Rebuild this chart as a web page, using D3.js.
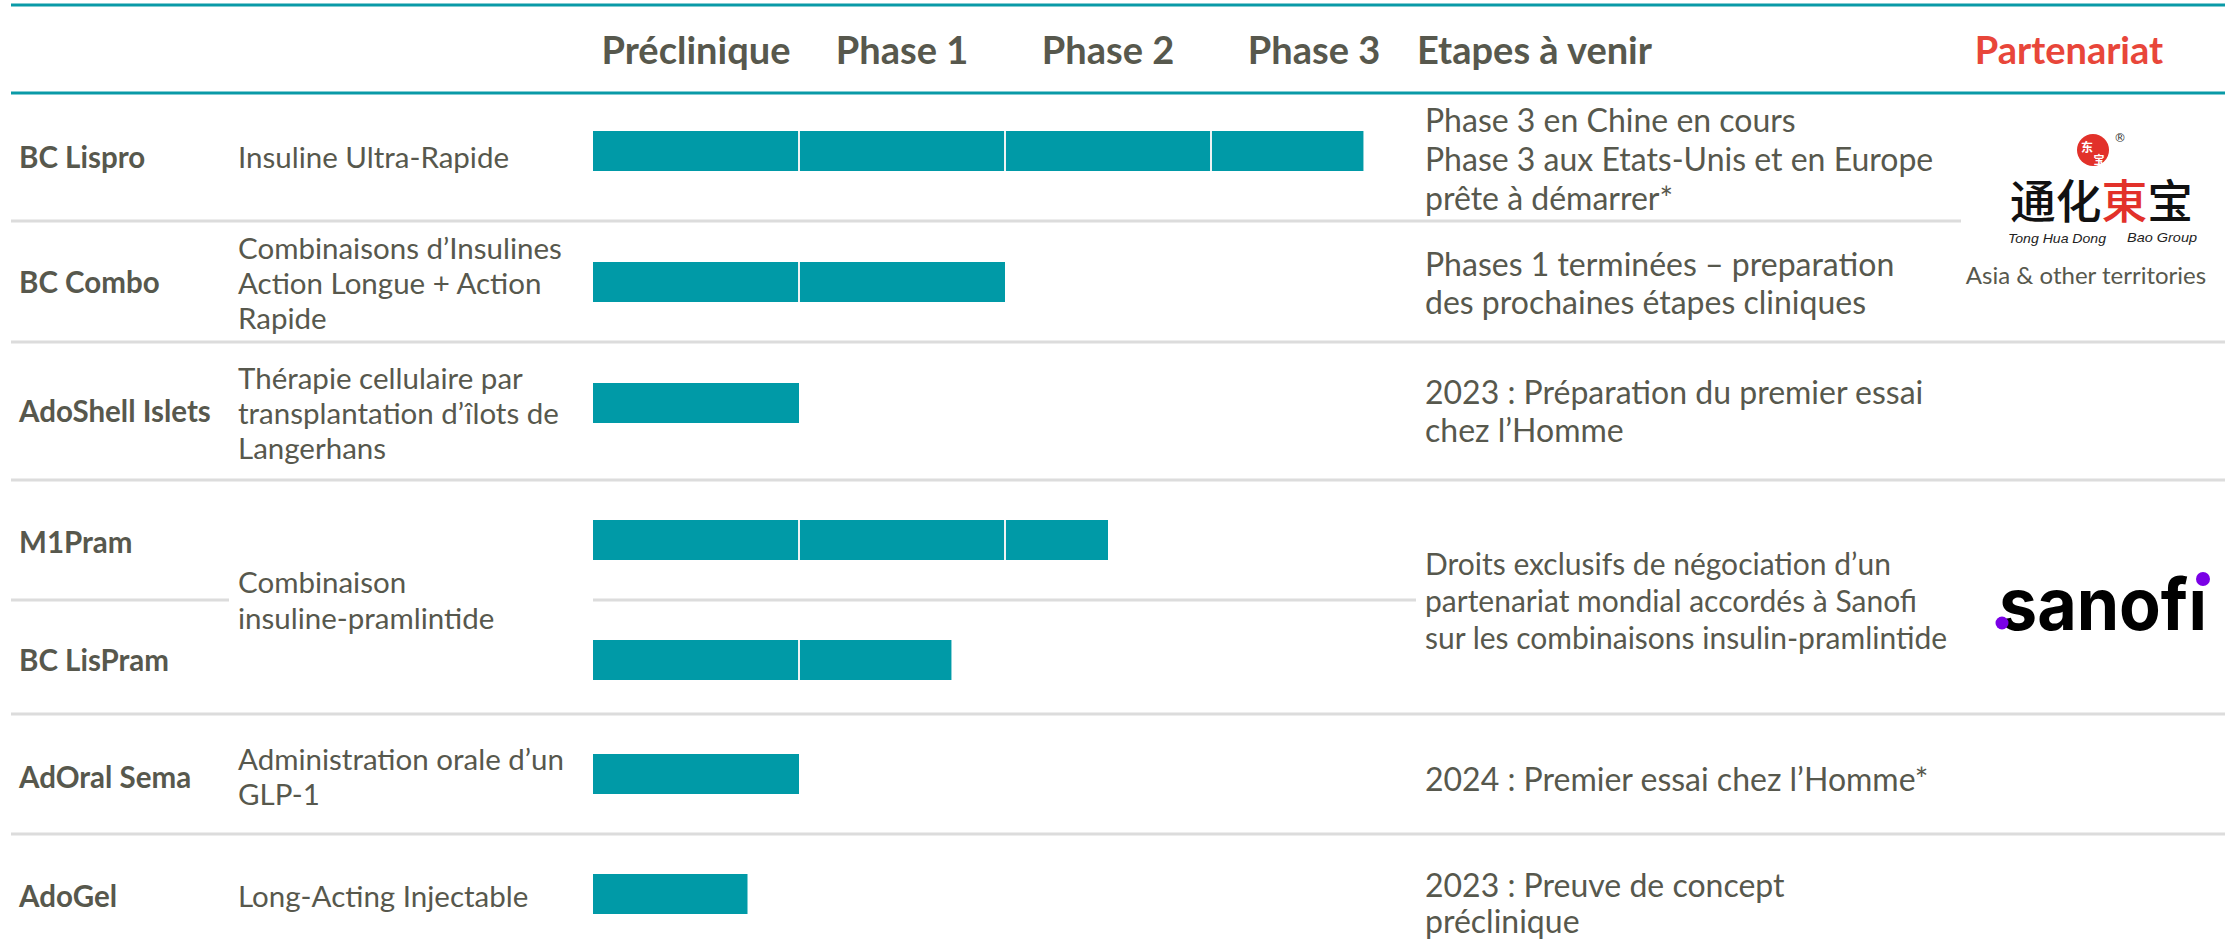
<!DOCTYPE html>
<html>
<head>
<meta charset="utf-8">
<script src="https://cdn.jsdelivr.net/npm/d3@7"></script>
<style>
  html, body { margin: 0; padding: 0; background: #ffffff; }
  svg { display: block; }
</style>
</head>
<body>
<div class="board"></div>
<script>
/*
=================================
DATA
=================================
*/
var phases = ['Préclinique', 'Phase 1', 'Phase 2', 'Phase 3'];

var products = ['BC Lispro', 'BC Combo', 'AdoShell Islets', 'M1Pram', 'BC LisPram', 'AdOral Sema', 'AdoGel'];

// progress in phase units (0 = start of preclinical, 4 = end of phase 3)
var progress = [3.74, 2.0, 1.0, 2.5, 1.74, 1.0, 0.75];

var descriptions = [
  ['Insuline Ultra-Rapide'],
  ['Combinaisons d’Insulines', 'Action Longue + Action', 'Rapide'],
  ['Thérapie cellulaire par', 'transplantation d’îlots de', 'Langerhans'],
  ['Combinaison', 'insuline-pramlintide'],
  ['Administration orale d’un', 'GLP-1'],
  ['Long-Acting Injectable']
];

var milestones = [
  ['Phase 3 en Chine en cours', 'Phase 3 aux Etats-Unis et en Europe', 'prête à démarrer*'],
  ['Phases 1 terminées – preparation', 'des prochaines étapes cliniques'],
  ['2023 : Préparation du premier essai', 'chez l’Homme'],
  ['Droits exclusifs de négociation d’un', 'partenariat mondial accordés à Sanofi', 'sur les combinaisons insulin-pramlintide'],
  ['2024 : Premier essai chez l’Homme*'],
  ['2023 : Preuve de concept', 'préclinique']
];

var headerExtra = ['Etapes à venir', 'Partenariat'];


/*
=================================
LAYOUT
=================================
*/
var width = 2235;
var height = 950;

var teal = '#0a9aa7';
var textColor = '#57584d';
var gridColor = '#dcdcdc';

var barCenters = [151, 282, 403, 540, 660, 774, 894];
var labelCenters = [157, 282, 411, 542, 660, 777, 896];
var barHeight = 40;

// first line centre, line step and font size for each text block
var descLayout = [[157, 0, 29.5], [248, 35, 29.5], [378, 35, 29.5], [582, 36, 29.5], [759, 35, 29.5], [896, 0, 29.5]];
var mileLayout = [[120, 39, 32], [264, 38.5, 32], [392, 38.5, 32], [564, 37, 30], [779, 0, 32], [885, 36.5, 32]];

var svgContainer = d3.select('.board').append('svg')
                     .attr('width', width)
                     .attr('height', height);

var x = d3.scaleLinear()
          .domain([0, phases.length])
          .range([593, 1417]);


/*
=================================
RULES
=================================
*/
var tealLines = [5, 93];

svgContainer.selectAll('line.teal')
  .data(tealLines)
  .enter().append('line')
  .attr('class', 'teal')
  .attr('x1', 11)
  .attr('x2', 2225)
  .attr('y1', d => d)
  .attr('y2', d => d)
  .attr('stroke', teal)
  .attr('stroke-width', 3);

var separators = [
  [221, 11, 1961],
  [342, 11, 2225],
  [480, 11, 2225],
  [600, 11, 229],
  [600, 593, 1416],
  [714, 11, 2225],
  [834, 11, 2225]
];

svgContainer.selectAll('line.sep')
  .data(separators)
  .enter().append('line')
  .attr('class', 'sep')
  .attr('x1', d => d[1])
  .attr('x2', d => d[2])
  .attr('y1', d => d[0])
  .attr('y2', d => d[0])
  .attr('stroke', gridColor)
  .attr('stroke-width', 3);


/*
=================================
HEADER
=================================
*/
svgContainer.selectAll('text.phase')
  .data(phases)
  .enter().append('text')
  .attr('class', 'phase')
  .attr('x', (d, i) => x(i + 0.5))
  .attr('y', 64)
  .attr('text-anchor', 'middle')
  .style('font-family', 'Lato')
  .style('font-weight', 700)
  .style('font-size', '38px')
  .style('fill', textColor)
  .text(d => d);

svgContainer.append('text')
  .attr('x', 1417)
  .attr('y', 64)
  .style('font-family', 'Lato')
  .style('font-weight', 700)
  .style('font-size', '38px')
  .style('fill', textColor)
  .text(headerExtra[0]);

svgContainer.append('text')
  .attr('x', 2069)
  .attr('y', 64)
  .attr('text-anchor', 'middle')
  .style('font-family', 'Lato')
  .style('font-weight', 700)
  .style('font-size', '38px')
  .style('fill', '#e8463a')
  .text(headerExtra[1]);


/*
=================================
ROW LABELS
=================================
*/
svgContainer.selectAll('text.product')
  .data(products)
  .enter().append('text')
  .attr('class', 'product')
  .attr('x', 19)
  .attr('y', (d, i) => labelCenters[i])
  .attr('dy', '0.36em')
  .style('font-family', 'Lato')
  .style('font-weight', 700)
  .style('font-size', '29.5px')
  .style('fill', textColor)
  .text(d => d);

var multiLine = function(cls, lines, layout, xPos) {
  var groups = svgContainer.selectAll('text.' + cls)
    .data(lines)
    .enter().append('text')
    .attr('class', cls)
    .style('font-family', 'Lato')
    .style('font-size', (d, i) => layout[i][2] + 'px')
    .style('fill', textColor);

  groups.selectAll('tspan')
    .data((d, i) => d.map(t => ({ t: t, i: i })))
    .enter().append('tspan')
    .attr('x', xPos)
    .attr('y', (d, j) => layout[d.i][0] + j * layout[d.i][1])
    .attr('dy', '0.36em')
    .text(d => d.t);
};

multiLine('desc', descriptions, descLayout, 238);
multiLine('mile', milestones, mileLayout, 1425);


/*
=================================
BARS
=================================
*/
var segments = [];
progress.forEach(function(p, i) {
  for (var k = 0; k < Math.ceil(p); k++) {
    segments.push({ row: i, start: k, end: Math.min(k + 1, p) });
  }
});

svgContainer.selectAll('rect.bar')
  .data(segments)
  .enter().append('rect')
  .attr('class', 'bar')
  .attr('x', d => x(d.start))
  .attr('width', d => x(d.end) - x(d.start))
  .attr('y', d => barCenters[d.row] - barHeight / 2)
  .attr('height', barHeight)
  .attr('fill', '#009aa7');

svgContainer.selectAll('line.divider')
  .data(segments.filter(d => d.start > 0))
  .enter().append('line')
  .attr('class', 'divider')
  .attr('x1', d => x(d.start))
  .attr('x2', d => x(d.start))
  .attr('y1', d => barCenters[d.row] - barHeight / 2)
  .attr('y2', d => barCenters[d.row] + barHeight / 2)
  .attr('stroke', '#eef3f3')
  .attr('stroke-width', 2);


/*
=================================
PARTNER LOGOS
=================================
*/
var thd = svgContainer.append('g');

thd.append('circle')
  .attr('cx', 2093)
  .attr('cy', 150)
  .attr('r', 16)
  .attr('fill', '#e2312a');

thd.append('text')
  .attr('x', 2087)
  .attr('y', 152)
  .attr('text-anchor', 'middle')
  .style('font-family', 'Noto Sans CJK SC')
  .style('font-weight', 700)
  .style('font-size', '12px')
  .style('fill', '#ffffff')
  .text('东');

thd.append('text')
  .attr('x', 2099)
  .attr('y', 164)
  .attr('text-anchor', 'middle')
  .style('font-family', 'Noto Sans CJK SC')
  .style('font-weight', 700)
  .style('font-size', '11px')
  .style('fill', '#ffffff')
  .text('宝');

thd.append('text')
  .attr('x', 2120)
  .attr('y', 142)
  .attr('text-anchor', 'middle')
  .style('font-family', 'DejaVu Sans')
  .style('font-size', '12px')
  .style('fill', '#333333')
  .text('®');

var cjk = thd.append('text')
  .attr('x', 2010)
  .attr('y', 218)
  .attr('textLength', 183)
  .attr('lengthAdjust', 'spacingAndGlyphs')
  .style('font-family', 'Noto Sans CJK SC')
  .style('font-weight', 500)
  .style('font-size', '46px')
  .style('fill', '#111111');

cjk.append('tspan').text('通化');
cjk.append('tspan').style('fill', '#e2312a').text('東');
cjk.append('tspan').text('宝');

thd.append('text')
  .attr('x', 2008)
  .attr('y', 243)
  .attr('textLength', 98)
  .attr('lengthAdjust', 'spacingAndGlyphs')
  .style('font-family', 'Liberation Sans')
  .style('font-style', 'italic')
  .style('font-size', '13px')
  .style('fill', '#222222')
  .text('Tong Hua Dong');

thd.append('text')
  .attr('x', 2127)
  .attr('y', 242)
  .attr('textLength', 70)
  .attr('lengthAdjust', 'spacingAndGlyphs')
  .style('font-family', 'Liberation Sans')
  .style('font-style', 'italic')
  .style('font-size', '13px')
  .style('fill', '#222222')
  .text('Bao Group');

thd.append('text')
  .attr('x', 2086)
  .attr('y', 275)
  .attr('dy', '0.36em')
  .attr('text-anchor', 'middle')
  .style('font-family', 'Lato')
  .style('font-size', '24px')
  .style('fill', textColor)
  .text('Asia & other territories');

var sanofi = svgContainer.append('g');

sanofi.append('text')
  .attr('x', 1999)
  .attr('y', 630)
  .attr('textLength', 208)
  .attr('lengthAdjust', 'spacingAndGlyphs')
  .style('font-family', 'Inter')
  .style('font-weight', 700)
  .style('font-size', '72px')
  .style('fill', '#000000')
  .text('sanofı');

sanofi.append('circle')
  .attr('cx', 2203)
  .attr('cy', 579)
  .attr('r', 7)
  .attr('fill', '#7a00e6');

sanofi.append('circle')
  .attr('cx', 2002)
  .attr('cy', 623)
  .attr('r', 6.5)
  .attr('fill', '#7a00e6');
</script>
</body>
</html>
